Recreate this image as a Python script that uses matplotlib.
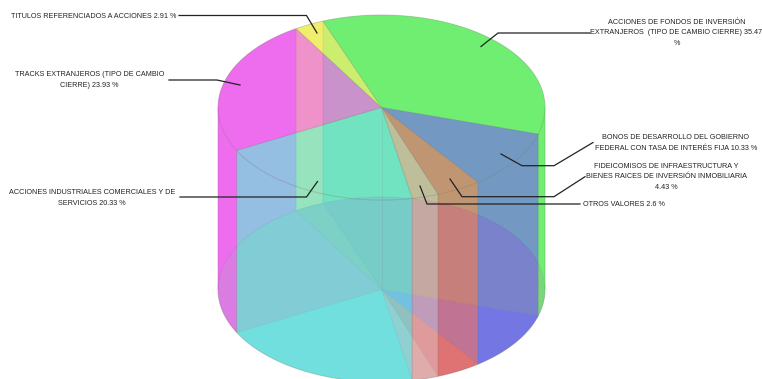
import numpy as np
import matplotlib
matplotlib.use("Agg")
import matplotlib.pyplot as plt
from matplotlib.patches import Polygon

plt.rcParams['font.family'] = ['Liberation Sans', 'DejaVu Sans']

# slices clockwise, beginning at the yellow / green border
labels = [
    "ACCIONES DE FONDOS DE INVERSIÓN\nEXTRANJEROS  (TIPO DE CAMBIO CIERRE) 35.47\n%",
    "BONOS DE DESARROLLO DEL GOBIERNO\nFEDERAL CON TASA DE INTERÉS FIJA 10.33 %",
    "FIDEICOMISOS DE INFRAESTRUCTURA Y\nBIENES RAICES DE INVERSIÓN INMOBILIARIA\n4.43 %",
    "OTROS VALORES 2.6 %",
    "ACCIONES INDUSTRIALES COMERCIALES Y DE\nSERVICIOS 20.33 %",
    "TRACKS EXTRANJEROS (TIPO DE CAMBIO\nCIERRE) 23.93 %",
    "TITULOS REFERENCIADOS A ACCIONES 2.91 %",
]
values = [35.47, 10.33, 4.43, 2.6, 20.33, 23.93, 2.91]
colors = ["#55EC58", "#5B5DDE", "#DA5757", "#DA9C9C", "#57D9D9", "#EB52EB", "#EDEB52"]
# the floor of the drum reads flatter than the walls, so it gets its own tints
floor_colors = ["#AABBAF", "#9B9EEB", "#E89B9B", "#E8C3C3", "#9BE8E8", "#C3BBD4", "#B4C3AA"]

# leader lines in pixels, text end first
leaders = [
    [(590, 33), (498, 33), (481, 46.5)],
    [(593, 142.5), (554, 165.7), (522, 165.7), (501, 154)],
    [(585, 176.7), (554, 196.7), (462, 196.7), (450, 179)],
    [(580, 204), (427, 204), (420, 186)],
    [(180, 197), (306.5, 197), (317.5, 181.5)],
    [(169, 80), (217, 80), (240, 85)],
    [(179, 15.5), (306.5, 15.5), (317, 33)],
]
# text centre
label_pos = [(676.5, 33), (676, 143), (666.5, 177), (624, 204), (92, 198), (89.5, 80), (94, 16)]

cx, rx, ry = 381.5, 163.5, 92.5
y_top, y_bot = 107.5, 289.5
start = -21.0
ALPHA = 0.6
EDGE = (0.45, 0.45, 0.45, 0.18)


def arc(a0, a1, y0, n=60):
    t = np.radians(np.linspace(a0, a1, n))
    return np.column_stack([cx + rx * np.sin(t), y0 - ry * np.cos(t)])


def face(ax, pts, color, z, alpha=ALPHA):
    ax.add_patch(Polygon(pts, closed=True, facecolor=matplotlib.colors.to_rgba(color, alpha),
                         edgecolor=EDGE, linewidth=0.7, zorder=z))


def wall(a0, a1):
    return np.vstack([arc(a0, a1, y_top), arc(a1, a0, y_bot)])


def print_chart():
    fig = plt.figure(figsize=(7.62, 3.79), dpi=100)
    ax = fig.add_axes([0, 0, 1, 1])
    ax.set_xlim(0, 762)
    ax.set_ylim(379, 0)
    ax.axis('off')

    shares = np.array(values) / sum(values) * 360
    ends = start + np.cumsum(shares)
    starts = ends - shares

    for a0, a1, col, floor in zip(starts, ends, colors, floor_colors):
        # bottom face
        face(ax, np.vstack([[cx, y_bot], arc(a0, a1, y_bot)]), floor, 1, alpha=1.0)
        # outer wall, cut where it passes from back to front
        for lo, hi in [(-90, 90), (90, 270), (270, 450)]:
            p, q = max(a0, lo), min(a1, hi)
            if p < q:
                back = lo != 90
                face(ax, wall(p, q), col, 2 if back else 4)
        # top face
        face(ax, np.vstack([[cx, y_top], arc(a0, a1, y_top)]), col, 5)

    # faint seam down the middle of the drum
    ax.plot([cx, cx], [y_top, y_bot], color=(0.45, 0.45, 0.45, 0.12), lw=0.7, zorder=5)

    for pts, text, pos in zip(leaders, labels, label_pos):
        xs, ys = zip(*pts)
        ax.plot(xs, ys, color="#222222", lw=0.9, zorder=6, solid_joinstyle='miter')
        ax.text(pos[0], pos[1], text, ha='center', va='center', fontsize=5.25,
                color="#222222", linespacing=1.65, zorder=7)

    fig.savefig("out.png", dpi=100)


if __name__ == "__main__":
    print_chart()
